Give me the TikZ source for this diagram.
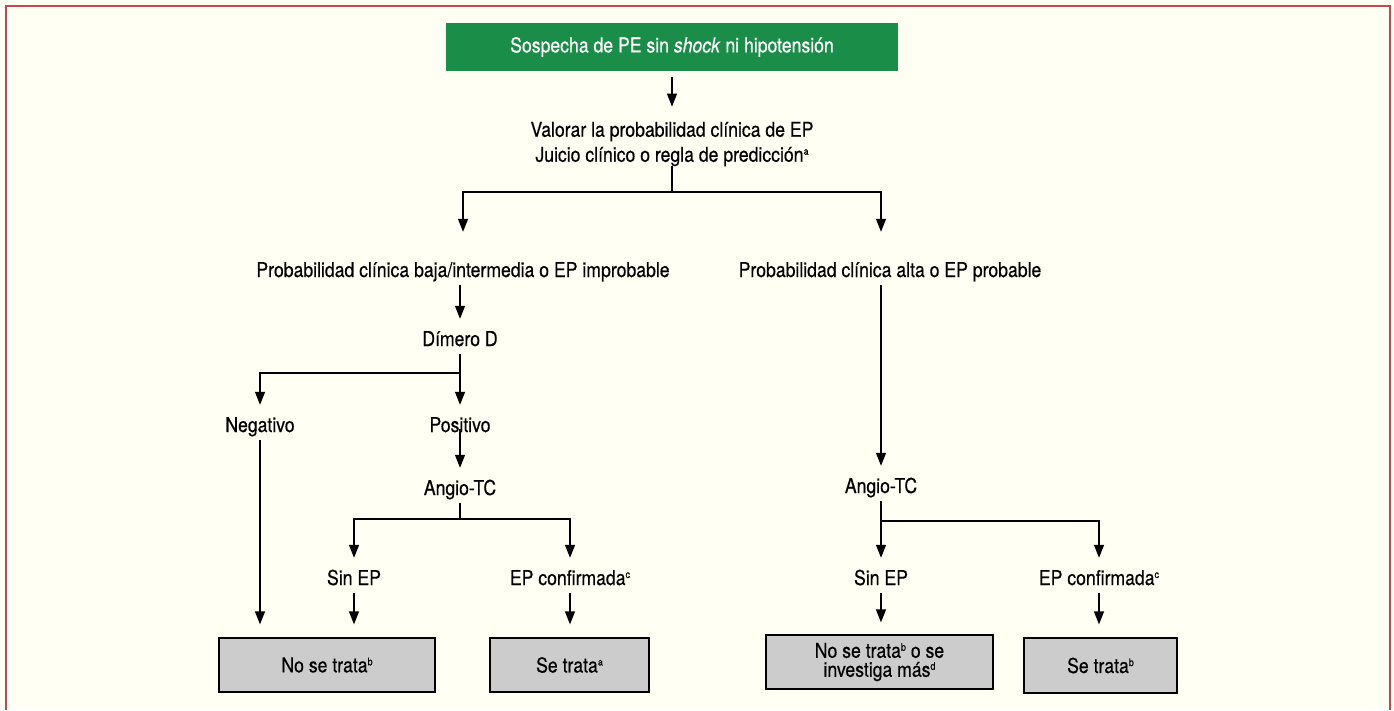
\documentclass[tikz,border=0pt]{standalone}
\usepackage{fontspec}
\setmainfont[FakeStretch=0.86,FakeBold=0.4]{TeX Gyre Heros}
\usetikzlibrary{arrows.meta}
\definecolor{cream}{RGB}{255,255,243}
\definecolor{framered}{RGB}{200,69,79}
\definecolor{headgreen}{RGB}{26,142,72}
\definecolor{boxgray}{RGB}{204,204,204}
\newcommand{\flowfont}{\fontsize{20.5}{25}\selectfont}
\newcommand{\supnote}[1]{\raisebox{0.65ex}{\fontsize{10.5}{10.5}\selectfont #1}}
\tikzstyle{start} = [rectangle, fill=headgreen, text=white, minimum width=452pt, minimum height=48pt, inner sep=0pt, font=\flowfont]
\tikzstyle{lbl} = [inner sep=0pt, text height=27pt, text depth=8pt, anchor=base, font=\flowfont]
\tikzstyle{result} = [rectangle, draw=black, fill=boxgray, line width=1.3pt, minimum height=54pt, inner sep=0pt, align=center, font=\flowfont]
\tikzstyle{flow} = [line width=1.3pt, -{Triangle[length=13pt,width=10pt]}]
\tikzstyle{link} = [line width=1.3pt]

\begin{document}
\begin{tikzpicture}[x=1pt,y=-1pt]
 \useasboundingbox (0,0) rectangle (1394,710);
 \fill[cream] (0,0) rectangle (1394,710);
 \draw[framered, line width=2pt] (6,710) -- (6,6) -- (1390,6) -- (1390,710);

 \node (sospecha) [start] at (672,47) {Sospecha de PE sin \textit{shock} ni hipotensión};
 \node (valorar) [align=center, inner sep=0pt, font=\flowfont] at (672,144) {Valorar la probabilidad clínica de EP\\Juicio clínico o regla de predicción\supnote{a}};
 \draw[flow, shorten <=6pt, shorten >=15pt] (sospecha.south) -- (valorar.north);

 \coordinate (split1) at (672,192);
 \node (baja) [lbl] at (463,277) {Probabilidad clínica baja/intermedia o EP improbable};
 \node (alta) [lbl] at (890,277) {Probabilidad clínica alta o EP probable};
 \draw[link] (valorar.south) -- (split1);
 \draw[flow, shorten >=18pt] (split1) -| (baja.north);
 \draw[flow, shorten >=18pt] (split1) -| ([xshift=-9pt]alta.north);

 \node (dimero) [lbl] at (460,346) {Dímero D};
 \draw[flow] (dimero.north |- baja.south) -- (dimero.north);

 \coordinate (split2) at (460,373);
 \node (negativo) [lbl] at (260,432) {Negativo};
 \node (positivo) [lbl] at (460,432) {Positivo};
 \draw[link] (dimero.south) -- (split2);
 \draw[flow] (split2) -| (negativo.north);
 \draw[flow] (split2) -- (positivo.north);

 \node (angio1) [lbl] at (460,495) {Angio-TC};
 \draw[flow] (positivo.mid) -- (angio1.north);

 \coordinate (split3) at (460,519);
 \node (sinep1) [lbl] at (354,585) {Sin EP};
 \node (epconf1) [lbl] at (570,585) {EP confirmada\supnote{c}};
 \draw[link] (angio1.south) -- (split3);
 \draw[flow] (split3) -| (sinep1.north);
 \draw[flow] (split3) -| (epconf1.north);

 \node (angio2) [lbl] at (881,493) {Angio-TC};
 \draw[flow] ([xshift=-9pt]alta.south) -- (angio2.north);

 \coordinate (split4) at (881,521);
 \node (sinep2) [lbl] at (881,585) {Sin EP};
 \node (epconf2) [lbl] at (1099,585) {EP confirmada\supnote{c}};
 \draw[link] (angio2.south) -- (split4);
 \draw[flow] (split4) -- (sinep2.north);
 \draw[flow] (split4) -| (epconf2.north);

 \node (notrata1) [result, minimum width=216pt] at (327,665) {No se trata\supnote{b}};
 \node (setrata1) [result, minimum width=159pt] at (569.5,665) {Se trata\supnote{a}};
 \node (notrata2) [result, minimum width=227pt, font=\fontsize{20.5}{19}\selectfont] at (879.5,662) {No se trata\supnote{b} o se\\investiga más\supnote{d}};
 \node (setrata2) [result, minimum width=153pt, minimum height=55pt] at (1100.5,665.5) {Se trata\supnote{b}};

 \draw[flow, shorten >=13pt] (negativo.south) -- (negativo.south |- notrata1.north);
 \draw[flow, shorten >=13pt] (sinep1.south) -- (sinep1.south |- notrata1.north);
 \draw[flow, shorten >=13pt] (epconf1.south) -- (epconf1.south |- setrata1.north);
 \draw[flow, shorten >=12pt] (sinep2.south) -- (sinep2.south |- notrata2.north);
 \draw[flow, shorten >=13pt] (epconf2.south) -- (epconf2.south |- setrata2.north);
\end{tikzpicture}
\end{document}
